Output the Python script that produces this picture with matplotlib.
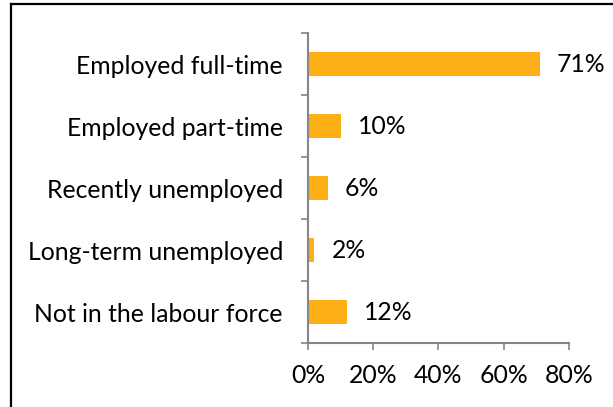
import numpy as np
import matplotlib
matplotlib.use("Agg")
import matplotlib.pyplot as plt
from matplotlib.lines import Line2D

categories = ["Employed full-time", "Employed part-time", "Recently unemployed",
              "Long-term unemployed", "Not in the labour force"]
shares = [71, 10, 6, 2, 12]
x_ticks = [0, 20, 40, 60, 80]

plt.rcParams['font.family'] = ['Lato', 'DejaVu Sans']
fs = 17.8
grey = '#868686'

fig = plt.figure(figsize=(6.13, 4.07), dpi=100)
ax = fig.add_axes([0.5024, 0.1572, 0.4258, 0.7617])

y = np.arange(len(categories))
bars = ax.barh(y, shares, height=0.4, color='#FCAF17')
ax.set_ylim(len(categories) - 0.5, -0.5)
ax.set_xlim(0, 80)

for b, v in zip(bars, shares):
    ax.annotate(f"{v}%", (b.get_width(), b.get_y() + b.get_height() / 2),
                xytext=(17, 0), textcoords='offset pixels',
                va='center', ha='left', fontsize=fs)

ax.set_yticks(y)
ax.set_yticklabels(categories, fontsize=fs)
ax.set_yticks(np.arange(len(categories) + 1) - 0.5, minor=True)
ax.tick_params(axis='y', which='major', length=0, pad=18)
ax.tick_params(axis='y', which='minor', length=5, width=1.2, color=grey)

ax.set_xticks(x_ticks)
ax.set_xticklabels([f"{t}%" for t in x_ticks], fontsize=fs)
ax.tick_params(axis='x', length=5, width=1.2, color=grey, pad=10)

for s in ['top', 'right']:
    ax.spines[s].set_visible(False)
for s in ['left', 'bottom']:
    ax.spines[s].set_color(grey)
    ax.spines[s].set_linewidth(1.5)

# outer frame, left and top edges
fig.add_artist(Line2D([11 / 613, 11 / 613], [0, 1 - 4 / 407], color='black', lw=1.6))
fig.add_artist(Line2D([11 / 613, 1], [1 - 4 / 407, 1 - 4 / 407], color='black', lw=1.6))

fig.savefig("out.png", dpi=100)
